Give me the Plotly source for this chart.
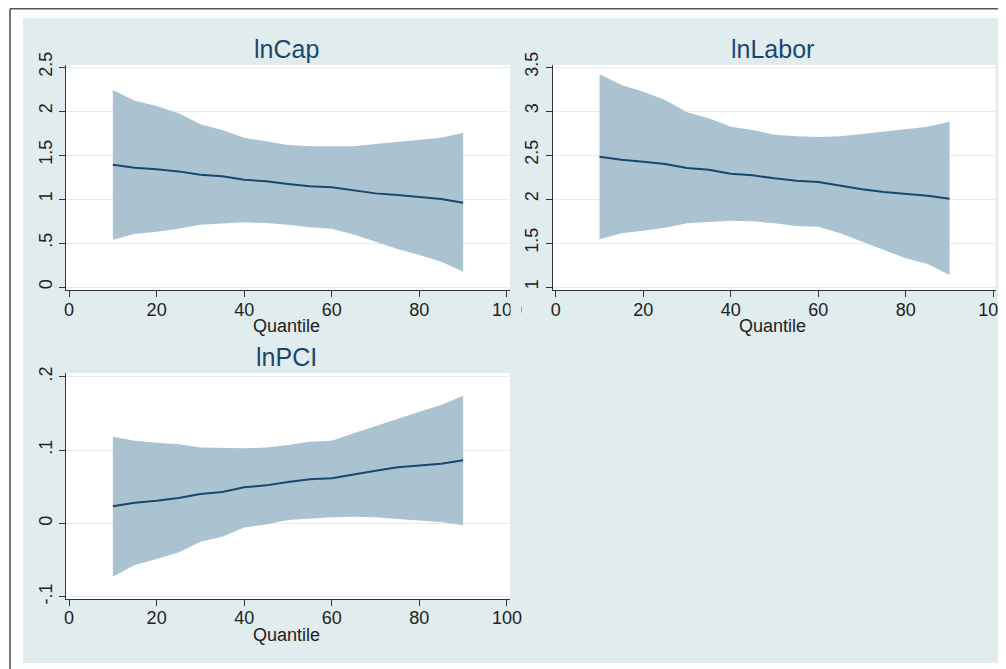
import plotly.graph_objects as go

quantiles = [10, 15, 20, 25, 30, 35, 40, 45, 50, 55, 60, 65, 70, 75, 80, 85, 90]

cap_coef = [1.390, 1.356, 1.337, 1.314, 1.277, 1.258, 1.220, 1.201, 1.170, 1.144, 1.133, 1.098, 1.064, 1.045, 1.023, 1.000, 0.958]
cap_upper = [2.240, 2.117, 2.057, 1.974, 1.849, 1.784, 1.697, 1.659, 1.614, 1.599, 1.595, 1.599, 1.625, 1.648, 1.670, 1.697, 1.754]
cap_lower = [0.538, 0.602, 0.629, 0.663, 0.708, 0.720, 0.735, 0.727, 0.708, 0.678, 0.663, 0.598, 0.515, 0.432, 0.364, 0.288, 0.174]

lab_coef = [2.481, 2.447, 2.424, 2.398, 2.352, 2.333, 2.288, 2.269, 2.235, 2.208, 2.193, 2.148, 2.110, 2.080, 2.057, 2.038, 2.003]
lab_upper = [3.420, 3.295, 3.220, 3.125, 2.985, 2.917, 2.822, 2.784, 2.731, 2.712, 2.705, 2.712, 2.739, 2.769, 2.795, 2.822, 2.879]
lab_lower = [1.542, 1.610, 1.640, 1.674, 1.724, 1.739, 1.754, 1.746, 1.724, 1.693, 1.685, 1.610, 1.515, 1.413, 1.326, 1.261, 1.136]

pci_coef = [0.0232, 0.0281, 0.0308, 0.0345, 0.0400, 0.0427, 0.0491, 0.0518, 0.0563, 0.0600, 0.0614, 0.0668, 0.0717, 0.0764, 0.0791, 0.0813, 0.0859]
pci_upper = [0.1180, 0.1127, 0.1100, 0.1077, 0.1036, 0.1027, 0.1023, 0.1036, 0.1068, 0.1113, 0.1127, 0.1227, 0.1327, 0.1432, 0.1522, 0.1613, 0.1740]
pci_lower = [-0.0728, -0.0569, -0.0487, -0.0396, -0.0251, -0.0183, -0.0055, -0.0014, 0.0045, 0.0068, 0.0082, 0.0090, 0.0082, 0.0059, 0.0036, 0.0018, -0.0027]

titles = ["lnCap", "lnLabor", "lnPCI"]
x_title = "Quantile"
x_ticks = [0, 20, 40, 60, 80, 100]
cap_ticks = [0, 0.5, 1, 1.5, 2, 2.5]
cap_ticktext = ["0", ".5", "1", "1.5", "2", "2.5"]
lab_ticks = [1, 1.5, 2, 2.5, 3, 3.5]
lab_ticktext = ["1", "1.5", "2", "2.5", "3", "3.5"]
pci_ticks = [-0.1, 0, 0.1, 0.2]
pci_ticktext = ["-.1", "0", ".1", ".2"]

# page has an 8px body margin: the figure covers page pixels 8..1006 x 8..669
OFF = 8
W, H = 1006 - OFF, 669 - OFF
BG = "#e1ecee"
FILL = "#abc3d1"
LINE = "#1a476f"
GRID = "#e3edf0"
FONT = "Liberation Sans, Arial, sans-serif"


def fx(px):
    return (px - OFF) / W


def fy(py):
    return 1 - (py - OFF) / H


panels = [
    dict(coef=cap_coef, up=cap_upper, lo=cap_lower, x=(66, 510), y=(65, 290),
         yr=[-0.034, 2.523], tv=cap_ticks, tt=cap_ticktext, xr=[-0.7, 100.7]),
    dict(coef=lab_coef, up=lab_upper, lo=lab_lower, x=(552.7, 995.7), y=(65, 290),
         yr=[0.966, 3.523], tv=lab_ticks, tt=lab_ticktext, xr=[-0.7, 100.55]),
    dict(coef=pci_coef, up=pci_upper, lo=pci_lower, x=(66, 510), y=(373, 598.7),
         yr=[-0.1027, 0.205], tv=pci_ticks, tt=pci_ticktext, xr=[-0.7, 100.7]),
]

fig = go.Figure()
shapes = [
    dict(type="rect", xref="paper", yref="paper", x0=fx(23), x1=fx(1000), y0=fy(663), y1=fy(18),
         fillcolor=BG, line=dict(width=0), layer="below"),
    dict(type="line", xref="paper", yref="paper", x0=fx(10), x1=1, y0=fy(8.8), y1=fy(8.8),
         line=dict(color="#555555", width=1.6)),
    dict(type="line", xref="paper", yref="paper", x0=fx(10), x1=fx(10), y0=0, y1=fy(8.8),
         line=dict(color="#555555", width=1.6)),
    # the right panel's region clips the "100" label of the left panel
    dict(type="rect", xref="paper", yref="paper", x0=fx(510.5), x1=fx(521), y0=fy(320), y1=fy(298),
         fillcolor=BG, line=dict(width=0), layer="above"),
]
annotations = []
layout_axes = {}

for i, p in enumerate(panels):
    n = "" if i == 0 else str(i + 1)
    xa, ya = "x" + n, "y" + n
    fig.add_trace(go.Scatter(x=quantiles, y=p["up"], mode="lines", line=dict(width=0, color=FILL),
                             showlegend=False, hoverinfo="skip", xaxis=xa, yaxis=ya))
    fig.add_trace(go.Scatter(x=quantiles, y=p["lo"], mode="lines", line=dict(width=0, color=FILL),
                             fill="tonexty", fillcolor=FILL, showlegend=False, xaxis=xa, yaxis=ya))
    fig.add_trace(go.Scatter(x=quantiles, y=p["coef"], mode="lines", line=dict(width=2, color=LINE),
                             showlegend=False, xaxis=xa, yaxis=ya))
    x0, x1 = p["x"]
    y0, y1 = p["y"]
    shapes.append(dict(type="rect", xref="paper", yref="paper", x0=fx(x0), x1=fx(x1),
                       y0=fy(y1), y1=fy(y0), fillcolor="white", line=dict(width=0), layer="below"))
    layout_axes["xaxis" + n] = dict(
        domain=[fx(x0), fx(x1)], anchor=ya, range=p["xr"], tickvals=x_ticks, automargin=False,
        showgrid=False, zeroline=False, showline=True, linecolor="#333333", linewidth=1.3,
        ticks="outside", ticklen=6, tickcolor="#333333", tickwidth=1.3,
        ticklabelstandoff=-3, ticklabeloverflow="allow",
        tickfont=dict(family=FONT, size=18, color="#222222"))
    layout_axes["yaxis" + n] = dict(
        domain=[fy(y1), fy(y0)], anchor=xa, range=p["yr"], tickvals=p["tv"], ticktext=p["tt"],
        automargin=False, tickangle=-90, showgrid=True, gridcolor=GRID, gridwidth=1.2, zeroline=False,
        showline=True, linecolor="#333333", linewidth=1.3,
        ticks="outside", ticklen=6, tickcolor="#333333", tickwidth=1.3,
        ticklabeloverflow="allow",
        tickfont=dict(family=FONT, size=18, color="#222222"))
    cx = (x0 + x1) / 2 - 2
    annotations.append(dict(text=titles[i], xref="paper", yref="paper", x=fx(cx), y=fy(y0 - 16),
                            showarrow=False, xanchor="center", yanchor="middle",
                            font=dict(family=FONT, size=25, color=LINE)))
    annotations.append(dict(text=x_title, xref="paper", yref="paper", x=fx(cx), y=fy(y1 + 36),
                            showarrow=False, xanchor="center", yanchor="middle",
                            font=dict(family=FONT, size=18, color="#222222")))

fig.update_layout(
    width=W, height=H, margin=dict(l=0, r=0, t=0, b=0, autoexpand=False),
    paper_bgcolor="white", plot_bgcolor="rgba(0,0,0,0)",
    shapes=shapes, annotations=annotations, showlegend=False,
    **layout_axes,
)

fig.write_html("out.html")
